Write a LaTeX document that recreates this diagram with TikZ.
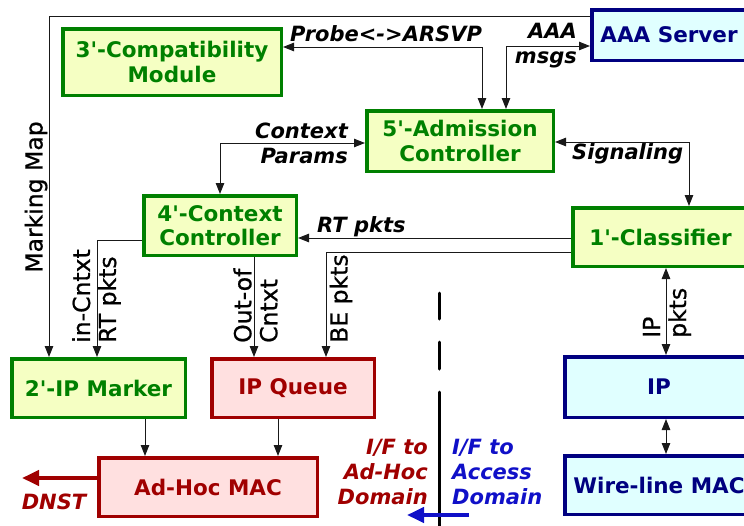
\documentclass[tikz,border=0pt]{standalone}
\usepackage{fontspec}
\setmainfont{DejaVu Sans}[Ligatures=TeXOff]
\newfontfamily\medfont{DejaVu Sans}[Ligatures=TeXOff, FakeBold=0.8]
\usetikzlibrary{arrows.meta,calc}
\definecolor{gfill}{RGB}{245,255,195}
\definecolor{gline}{RGB}{0,128,0}
\definecolor{rline}{RGB}{160,0,0}
\definecolor{rfill}{RGB}{255,224,224}
\definecolor{nline}{RGB}{0,0,128}
\definecolor{nfill}{RGB}{224,255,255}
\definecolor{bline}{RGB}{16,16,200}
\tikzset{
 boxbase/.style={draw, line width=3.5pt, align=center, inner sep=0pt, font=\fontsize{21.5}{24.5}\selectfont\bfseries},
 gbox/.style={boxbase, draw=gline, fill=gfill, text=gline},
 rbox/.style={boxbase, draw=rline, fill=rfill, text=rline},
 nbox/.style={boxbase, draw=nline, fill=nfill, text=nline},
 conn/.style={line width=1pt, draw=black!90},
 arr/.style={conn, -{Triangle[length=11pt,width=8.5pt]}},
 dbl/.style={conn, {Triangle[length=11pt,width=8.5pt]}-{Triangle[length=11pt,width=8.5pt]}},
 ilab/.style={font=\fontsize{21}{25}\selectfont\bfseries\itshape, inner sep=0pt},
 rlab/.style={font=\medfont\fontsize{23.5}{26}\selectfont, rotate=90, align=left, inner sep=0pt, anchor=west},
 divl/.style={line width=3pt, line cap=round, draw=black},
 bigarr/.style={line width=4pt, -{Triangle[length=17pt,width=15pt]}},
}
\begin{document}
\begin{tikzpicture}[x=1pt,y=-1pt]
\useasboundingbox (0,0) rectangle (744,525);
\clip (0,0) rectangle (744,525);

% boxes
\node[gbox, minimum width=218.5pt, minimum height=66.5pt] (c3) at (172,62) {3'-Compatibility\\Module};
\node[nbox, minimum width=154.5pt, minimum height=50.5pt] (aaa) at (669,35) {AAA Server};
\node[gbox, minimum width=186.5pt, minimum height=60.5pt] (adm) at (460,141) {5'-Admission\\Controller};
\node[gbox, minimum width=152.5pt, minimum height=59.5pt] (ctx) at (220,225.5) {4'-Context\\Controller};
\node[gbox, minimum width=175.5pt, minimum height=58.5pt] (cls) at (660.5,237) {1'-Classifier};
\node[gbox, minimum width=173.5pt, minimum height=58.5pt] (mark) at (98.5,388) {2'-IP Marker};
\node[rbox, minimum width=162.5pt, minimum height=58.5pt] (que) at (293,388) {IP Queue};
\node[rbox, minimum width=218.5pt, minimum height=58.5pt] (mac) at (208,487) {Ad-Hoc MAC};
\node[nbox, minimum width=188.5pt, minimum height=60.5pt] (ip) at (659,387) {IP};
\node[nbox, minimum width=188.5pt, minimum height=58.5pt] (wl) at (659,485) {Wire-line MAC};

% connectors
\draw[arr] ([yshift=19pt]aaa.west) -| ([xshift=-49.5pt]mark.north);
\node[rlab, anchor=center] (mm) at (36,197) {Marking Map};

\draw[dbl] ([yshift=15pt]c3.east) -| ([xshift=22pt]adm.north);
\node[ilab] (probe) at (386,34) {Probe<->ARSVP};

\draw[dbl] ([xshift=46pt]adm.north) |- ([yshift=-11pt]aaa.west);
\node[ilab, align=right, anchor=east] (aaamsg) at (577,45.5) {AAA\\msgs};

\draw[dbl] ([yshift=-2pt]adm.west) -| (ctx.north);
\node[ilab, align=right, anchor=east] (cparams) at (348,143) {Context\\Params};

\draw[dbl] ([yshift=-1pt]adm.east) -| ([xshift=28.5pt]cls.north);
\node[ilab, anchor=west] (sig) at (572,154) {Signaling};

\draw[arr] ([yshift=-1pt]cls.west) -- ([yshift=-12.5pt]ctx.east);
\node[ilab, anchor=west] (rtp) at (317,227) {RT pkts};

\draw[arr] ([yshift=-15pt]cls.west) -| ([xshift=33pt]que.north);
\node[rlab] (bep) at (341,343) {BE pkts};

\draw[arr] ([yshift=-14.5pt]ctx.west) -| ([xshift=-1.5pt]mark.north);
\node[rlab] (incx) at (96.5,343) {in-Cntxt\\RT pkts};

\draw[arr] ([xshift=34pt]ctx.south) -- ([xshift=-39pt]que.north);
\node[rlab] (outcx) at (255.5,343) {Out-of\\Cntxt};

\draw[dbl] ([xshift=5.5pt]cls.south) -- ([xshift=7pt]ip.north);
\node[rlab] (ipp) at (667,338) {IP\\pkts};

\draw[arr] ([xshift=46.5pt]mark.south) -- ([xshift=-63pt]mac.north);
\draw[arr] ([xshift=-15pt]que.south) -- ([xshift=70pt]mac.north);
\draw[dbl] ([xshift=7pt]ip.south) -- ([xshift=7pt]wl.north);

% DNST
\coordinate (dnst) at (22,478);
\draw[bigarr, draw=rline, fill=rline] ([yshift=9pt]mac.west) -- (dnst);
\node[ilab, text=rline] (dnstl) at (54,502) {DNST};

% divider
\coordinate (d1a) at (439,293); \coordinate (d1b) at (439,319);
\coordinate (d2a) at (439,342); \coordinate (d2b) at (439,369);
\coordinate (d3a) at (439,392); \coordinate (d3b) at (439,530);
\draw[divl] (d1a) -- (d1b);
\draw[divl] (d2a) -- (d2b);
\draw[divl] (d3a) -- (d3b);

\node[ilab, text=rline, align=right, anchor=east] (ifadhoc) at (428,472) {I/F to\\Ad-Hoc\\Domain};
\node[ilab, text=bline, align=left, anchor=west] (ifacc) at (452,472) {I/F to\\Access\\Domain};

\coordinate (bstart) at (469,515);
\coordinate (bend) at (407,515);
\draw[bigarr, draw=bline, fill=bline] (bstart) -- (bend);
\end{tikzpicture}
\end{document}
